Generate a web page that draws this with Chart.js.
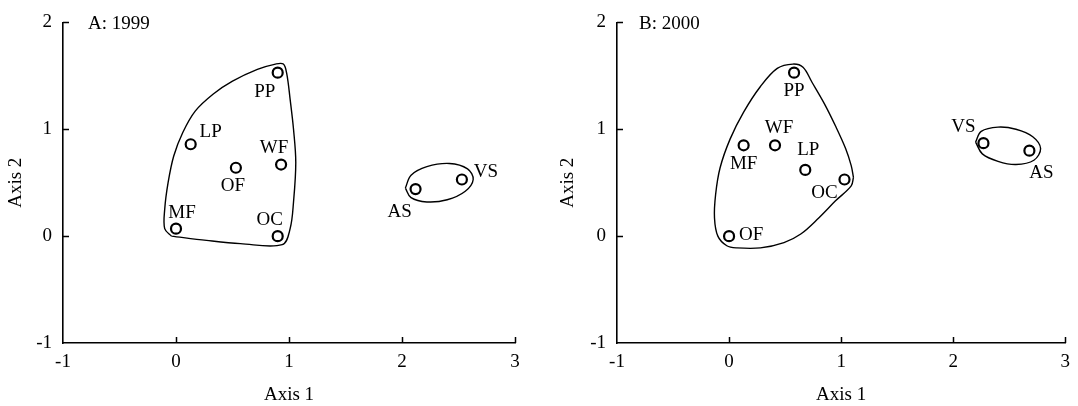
<!DOCTYPE html>
<html>
<head>
<meta charset="utf-8">
<script src="https://cdn.jsdelivr.net/npm/chart.js@4"></script>
<style>
  body { margin: 0; background: #fff; }
  .panel { position: absolute; top: 0; height: 406px; }
</style>
</head>
<body>
<div class="panel" style="left:0;width:539px"><canvas id="chartA" width="539" height="406"></canvas></div>
<div class="panel" style="left:540px;width:538px"><canvas id="chartB" width="538" height="406"></canvas></div>
<script>
// site scores on the first two axes
const sitesA = ["MF", "LP", "OF", "WF", "PP", "OC", "AS", "VS"];
const axis1A = [0.00, 0.13, 0.53, 0.93, 0.90, 0.90, 2.12, 2.53];
const axis2A = [0.07, 0.86, 0.64, 0.67, 1.53, 0.00, 0.44, 0.53];

const sitesB = ["OF", "MF", "WF", "PP", "LP", "OC", "VS", "AS"];
const axis1B = [0.00, 0.13, 0.41, 0.58, 0.68, 1.03, 2.27, 2.68];
const axis2B = [0.00, 0.85, 0.85, 1.53, 0.62, 0.53, 0.87, 0.80];

const axis1Ticks = [-1, 0, 1, 2, 3];
const axis2Ticks = [-1, 0, 1, 2];

// group outlines (axis units)
const hullA1 = [[-0.04,0.00],[0.27,-0.04],[0.57,-0.07],[0.94,-0.08],[1.01,0.07],[1.04,0.32],[1.06,0.69],
  [1.04,1.00],[1.01,1.28],[0.98,1.52],[0.95,1.61],[0.88,1.61],[0.72,1.56],[0.50,1.45],[0.33,1.33],
  [0.17,1.17],[0.06,0.97],[-0.02,0.75],[-0.07,0.50],[-0.10,0.25],[-0.10,0.07],[-0.04,0.00]];
const hullA2 = [[2.03,0.45],[2.08,0.57],[2.22,0.65],[2.42,0.68],[2.58,0.63],[2.63,0.53],[2.56,0.42],
  [2.40,0.34],[2.22,0.32],[2.08,0.36],[2.03,0.45]];
const hullB1 = [[1.11,0.55],[1.09,0.66],[1.04,0.82],[0.95,1.03],[0.85,1.24],[0.74,1.44],[0.66,1.58],[0.57,1.61],
  [0.43,1.57],[0.28,1.40],[0.13,1.16],[0.01,0.91],[-0.08,0.64],[-0.12,0.39],[-0.13,0.17],[-0.10,0.00],
  [-0.02,-0.09],[0.07,-0.11],[0.28,-0.11],[0.49,-0.06],[0.64,0.02],[0.80,0.17],[0.95,0.33],[1.09,0.47],[1.11,0.55]];
const hullB2 = [[2.20,0.88],[2.25,0.98],[2.40,1.02],[2.56,1.00],[2.71,0.93],[2.78,0.82],[2.72,0.71],
  [2.56,0.67],[2.40,0.70],[2.26,0.77],[2.20,0.88]];

// label placement relative to each marker, px
const offsetsA = [[6,-16],[20,-12],[-3,18],[-7,-17],[-13,19],[-8,-16],[-16,23],[24,-7]];
const offsetsB = [[22,-1],[0,19],[4,-17],[0,18],[3,-20],[-20,14],[-20,-16],[12,22]];

const FONT = "'Liberation Serif', 'Times New Roman', serif";
Chart.defaults.font.family = FONT;
Chart.defaults.font.size = 19;
Chart.defaults.color = "#000";

const extras = {
  id: "extras",
  afterDraw(chart) {
    const { ctx, chartArea: a, scales: { x, y } } = chart;
    const cfg = chart.options.plugins.extras;
    ctx.save();
    // inward tick marks
    ctx.strokeStyle = "#000";
    ctx.lineWidth = 1.5;
    ctx.beginPath();
    x.ticks.forEach(t => {
      if (t.value === x.min) return;
      const px = Math.round(x.getPixelForValue(t.value)) + 0.5;
      ctx.moveTo(px, a.bottom);
      ctx.lineTo(px, a.bottom - 6);
    });
    y.ticks.forEach(t => {
      if (t.value === y.min) return;
      const py = Math.round(y.getPixelForValue(t.value)) + 0.5;
      ctx.moveTo(a.left, py);
      ctx.lineTo(a.left + 6, py);
    });
    ctx.stroke();
    // site labels
    ctx.font = "19px " + FONT;
    ctx.fillStyle = "#000";
    ctx.textAlign = "center";
    ctx.textBaseline = "middle";
    const meta = chart.getDatasetMeta(0);
    meta.data.forEach((pt, i) => {
      const o = cfg.offsets[i];
      ctx.fillText(cfg.names[i], pt.x + o[0], pt.y + o[1]);
    });
    // panel caption
    ctx.textAlign = "left";
    ctx.fillText(cfg.caption, a.left + cfg.captionDx, a.top + 2);
    ctx.restore();
  }
};

function hullSet(pts) {
  return {
    data: pts.map(p => ({ x: p[0], y: p[1] })),
    showLine: true,
    pointRadius: 0,
    borderColor: "#000",
    borderWidth: 1.4,
    tension: 0.35,
    fill: false
  };
}

function makeChart(id, names, xs, ys, hulls, offsets, caption, captionDx, yWidth, padRight, yTitlePad) {
  const ctx = document.getElementById(id).getContext("2d");
  return new Chart(ctx, {
    type: "scatter",
    data: {
      datasets: [
        {
          data: xs.map((v, i) => ({ x: v, y: ys[i] })),
          pointStyle: "circle",
          pointRadius: 5,
          pointBorderWidth: 2.2,
          borderColor: "#000",
          backgroundColor: "#fff"
        }
      ].concat(hulls.map(hullSet))
    },
    options: {
      responsive: false,
      animation: false,
      layout: { padding: { top: 20, right: padRight, left: 0, bottom: 0 } },
      plugins: {
        legend: { display: false },
        tooltip: { enabled: false },
        extras: { names: names, offsets: offsets, caption: caption, captionDx: captionDx }
      },
      scales: {
        x: {
          type: "linear",
          min: -1, max: 3,
          afterBuildTicks: s => { s.ticks = axis1Ticks.map(v => ({ value: v })); },
          afterFit: s => { s.height = 63; },
          grid: { display: false, drawTicks: false },
          border: { display: true, color: "#000", width: 1.6 },
          ticks: { padding: 8, color: "#000" },
          title: { display: true, text: "Axis 1", padding: { top: 0, bottom: 0 } }
        },
        y: {
          type: "linear",
          min: -1, max: 2,
          afterBuildTicks: s => { s.ticks = axis2Ticks.map(v => ({ value: v })); },
          afterFit: s => { s.width = yWidth; },
          grid: { display: false, drawTicks: false },
          border: { display: true, color: "#000", width: 1.6 },
          ticks: { padding: 11, color: "#000" },
          title: { display: true, text: "Axis 2", padding: { top: yTitlePad, bottom: 0 } }
        }
      }
    },
    plugins: [extras]
  });
}

makeChart("chartA", sitesA, axis1A, axis2A, [hullA1, hullA2], offsetsA, "A: 1999", 25, 63, 24, 5);
makeChart("chartB", sitesB, axis1B, axis2B, [hullB1, hullB2], offsetsB, "B: 2000", 22, 77, 10, 17);
</script>
</body>
</html>
